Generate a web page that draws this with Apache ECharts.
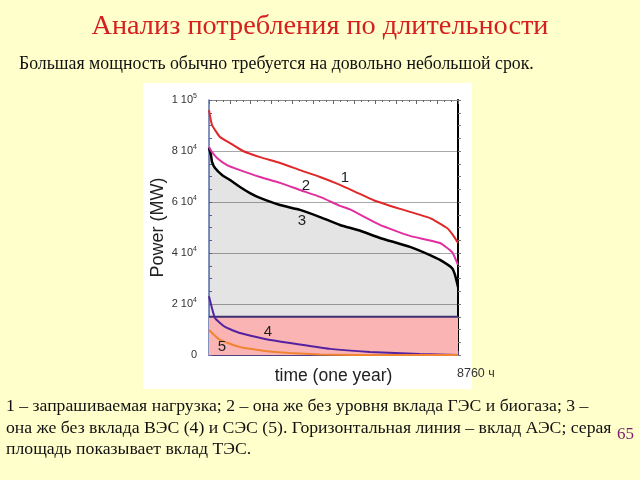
<!DOCTYPE html>
<html><head><meta charset="utf-8">
<script src="https://cdn.jsdelivr.net/npm/echarts@6/dist/echarts.min.js"></script>
<style>html,body{margin:0;padding:0;background:#FFFFCC;}#c{width:640px;height:480px;}</style>
</head><body><div id="c"></div>
<script>
// ---- data (hours of year, MW) ----
const hoursMax = 8760;
const curve1 = [[0,96000],[106,90200],[387,85500],[739,83100],[1196,80000],[1794,77600],[2498,75300],[3202,72500],[3905,69800],[4609,66700],[5770,60800],[6720,57300],[7775,53700],[8373,49800],[8584,47000],[8760,43900]];
const curve2 = [[0,81600],[106,79600],[282,77300],[634,74500],[1091,72500],[1794,69800],[2498,67500],[3202,64700],[3905,62000],[4609,58500],[4961,57100],[6016,51000],[7071,46700],[8127,43900],[8549,40400],[8760,35300]];
const curve3 = [[0,81200],[70,78400],[106,75700],[211,73300],[458,70600],[739,68600],[1091,65900],[1443,63500],[1794,61600],[2498,58800],[3202,56900],[3905,54100],[4609,51000],[5300,48800],[6016,45900],[7071,42400],[7775,39200],[8127,37300],[8549,34100],[8655,31400],[8760,26700]];
const curve4 = [[0,23000],[211,14500],[563,11000],[1091,8600],[1970,6300],[2850,4700],[4257,2400],[5664,1200],[7423,400],[8760,0]];
const curve5 = [[0,9800],[387,5900],[1091,3100],[1970,1600],[2850,800],[3905,200],[5000,0],[8760,0]];
const nuclear = [[0,15000],[8760,15000]];
const yTicks = [0,20000,40000,60000,80000,100000];
const yTickMant = ['0','2','4','6','8','1'];
const yTickExp = ['','4','4','4','4','5'];
const curveNames = ['1','2','3','4','5'];

const chart = echarts.init(document.getElementById('c'));
const sans = 'Liberation Sans, Arial, sans-serif';
const serif = 'Liberation Serif, Times New Roman, serif';

function yLabel(v){
  const i = yTicks.indexOf(v);
  if (i < 0) return '';
  if (yTickExp[i] === '') return '{m|' + yTickMant[i] + '}';
  return '{m|' + yTickMant[i] + ' 10}{s|' + yTickExp[i] + '}';
}

const labelPos = [[345,178],[306,186],[302,221],[268,332],[222,347]];
const lineCommon = {type:'line', showSymbol:false, smooth:0.15};

chart.setOption({
  backgroundColor: '#FFFFCC',
  animation: false,
  grid: {left: 209, top: 100, width: 249, height: 255},
  xAxis: [
    {type:'value', min:0, max:hoursMax, interval:730, position:'bottom',
     axisLine:{show:true, onZero:false, lineStyle:{color:'#504080', width:1}},
     axisTick:{show:true, inside:true, length:4, lineStyle:{color:'#504080'}},
     minorTick:{show:true, splitNumber:3, length:2, lineStyle:{color:'#504080'}},
     axisLabel:{show:false}, splitLine:{show:false},
     name:'time (one year)', nameLocation:'middle', nameGap:12,
     nameTextStyle:{fontFamily:sans, fontSize:17.5, color:'#222'}},
    {type:'value', min:0, max:hoursMax, interval:730, position:'top',
     axisLine:{show:true, onZero:false, lineStyle:{color:'#888', width:1}},
     axisTick:{show:true, inside:true, length:4, lineStyle:{color:'#666'}},
     minorTick:{show:true, splitNumber:3, length:2, lineStyle:{color:'#666'}},
     axisLabel:{show:false}, splitLine:{show:false}}
  ],
  yAxis: [
    {type:'value', min:0, max:100000, interval:20000, position:'left',
     axisLine:{show:true, onZero:false, lineStyle:{color:'#5A6CA8', width:1.5}},
     axisTick:{show:true, inside:true, length:3, lineStyle:{color:'#5A6CA8'}},
     minorTick:{show:true, splitNumber:4, length:3, lineStyle:{color:'#5A6CA8'}},
     splitLine:{show:true, lineStyle:{color:'#A8A8A8', width:1}},
     axisLabel:{margin:12, formatter: yLabel,
       rich:{m:{fontFamily:sans, fontSize:11, color:'#333'},
             s:{fontFamily:sans, fontSize:7, color:'#333', padding:[0,0,7,0]}}},
     name:'Power (MW)', nameLocation:'middle', nameGap:42,
     nameTextStyle:{fontFamily:sans, fontSize:18, color:'#222'}},
    {type:'value', min:0, max:100000, interval:5000, position:'right',
     axisLine:{show:true, onZero:false, lineStyle:{color:'#000', width:2}},
     axisTick:{show:true, inside:false, length:3, lineStyle:{color:'#777'}},
     axisLabel:{show:false}, splitLine:{show:false}}
  ],
  series: [
    Object.assign({}, lineCommon, {data:curve3, lineStyle:{color:'#000', width:2.5}, areaStyle:{color:'rgba(0,0,0,0.15)'}}),
    {type:'line', data:nuclear, showSymbol:false,
     lineStyle:{color:'#3E3070', width:2}, areaStyle:{color:'#FBB4B4', opacity:1}},
    Object.assign({}, lineCommon, {data:curve4, lineStyle:{color:'#5522A0', width:2}}),
    Object.assign({}, lineCommon, {data:curve5, lineStyle:{color:'#F08432', width:2}}),
    Object.assign({}, lineCommon, {data:curve2, lineStyle:{color:'#E0309F', width:2}}),
    Object.assign({}, lineCommon, {data:curve1, lineStyle:{color:'#E02828', width:2}})
  ],
  graphic: [
    {type:'rect', z:-10, shape:{x:143, y:83, width:329, height:306}, style:{fill:'#fff'}},
    {type:'text', left:'center', top:13, style:{text:'Анализ потребления по длительности', font:'28.3px ' + serif, fill:'#D42020'}},
    {type:'text', left:19, top:55, style:{text:'Большая мощность обычно требуется на довольно небольшой срок.', font:'17.8px ' + serif, fill:'#111'}},
    {type:'text', left:6, top:396, style:{text:'1 – запрашиваемая нагрузка; 2 – она же без уровня вклада ГЭС и биогаза; 3 –\nона же без вклада ВЭС (4) и СЭС (5). Горизонтальная линия – вклад АЭС; серая\nплощадь показывает вклад ТЭС.', font:'17.7px ' + serif, fill:'#111', lineHeight:21.5}},
    {type:'text', left:617, top:426, style:{text:'65', font:'17px ' + serif, fill:'#7A1F6E'}},
    {type:'text', left:457, top:367, style:{text:'8760 ч', font:'12.5px ' + sans, fill:'#333'}}
  ].concat(curveNames.map((n,i)=>({type:'text', x:labelPos[i][0], y:labelPos[i][1], z:50,
     style:{text:n, font:'15px ' + sans, fill:'#222', align:'center', verticalAlign:'middle'}})))
});
</script></body></html>
